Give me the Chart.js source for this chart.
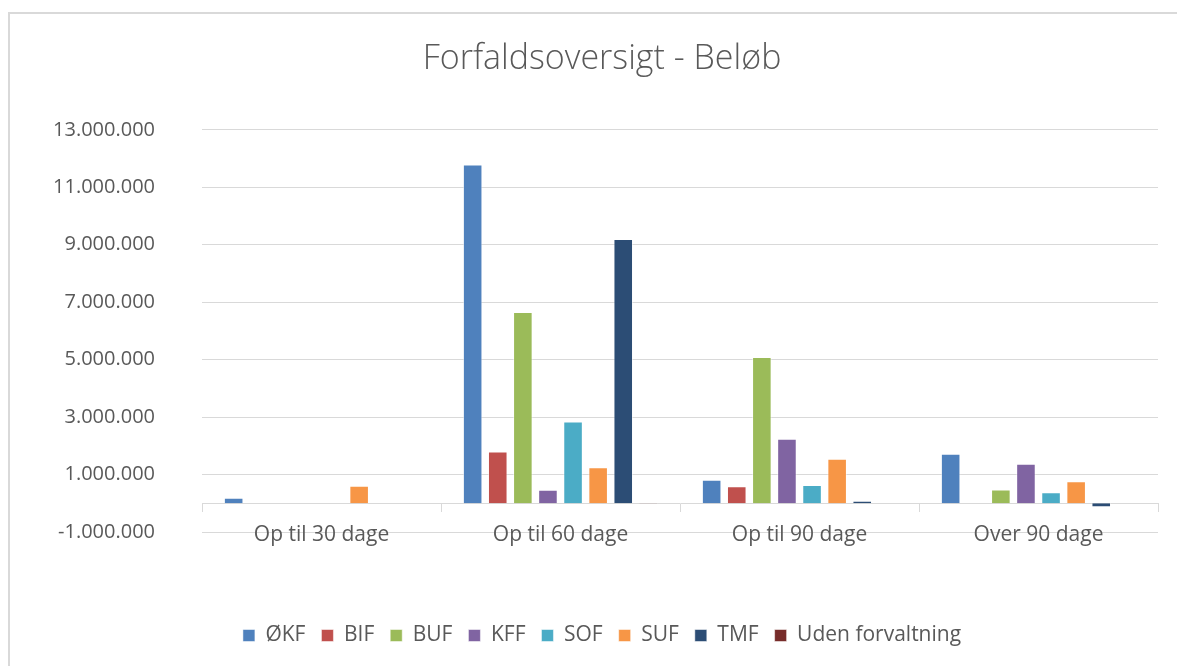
<!DOCTYPE html>
<html>
<head>
<meta charset="utf-8">
<script src="https://cdn.jsdelivr.net/npm/chart.js@4"></script>
<style>
    body { margin: 0; background: #fff; overflow: hidden; }
    #wrap { position: relative; width: 1177px; height: 666px; }
    #frame {
        position: absolute; left: 8px; top: 12px; width: 1200px; height: 700px;
        border-left: 2px solid #d9d9d9; border-top: 2px solid #d9d9d9;
        pointer-events: none;
    }
</style>
</head>
<body>
<div id="wrap">
    <canvas id="dueChart" width="1177" height="666"></canvas>
    <div id="frame"></div>
</div>
<script>
const categories = ['Op til 30 dage', 'Op til 60 dage', 'Op til 90 dage', 'Over 90 dage'];

// amounts per forvaltning
const okf  = [190000, 11790000, 820000, 1720000];
const bif  = [0, 1800000, 590000, 0];
const buf  = [0, 6660000, 5090000, 480000];
const kff  = [0, 470000, 2250000, 1380000];
const sof  = [0, 2850000, 640000, 380000];
const suf  = [610000, 1250000, 1550000, 770000];
const tmf  = [0, 9200000, 90000, -140000];
const uden = [0, 20000, 0, 0];

const seriesNames = ['ØKF', 'BIF', 'BUF', 'KFF', 'SOF', 'SUF', 'TMF', 'Uden forvaltning'];
const seriesValues = [okf, bif, buf, kff, sof, suf, tmf, uden];
const seriesColors = ['#4f81bd', '#c0504d', '#9bbb59', '#8064a2', '#4bacc6', '#f79646', '#2c4d75', '#772c2a'];

const yMin = -1000000;
const yMax = 13000000;
const yStep = 2000000;

const textColor = '#595959';
const gridColor = '#d9d9d9';
const fontFamily = '"Open Sans", "Liberation Sans", sans-serif';

function formatDots(v) {
    const neg = v < 0;
    const s = Math.abs(Math.round(v)).toString().replace(/\B(?=(\d{3})+(?!\d))/g, '.');
    return (neg ? '-' : '') + s;
}

const ctx = document.getElementById('dueChart').getContext('2d');
new Chart(ctx, {
    type: 'bar',
    data: {
        labels: categories,
        datasets: seriesNames.map((name, i) => ({
            label: name,
            data: seriesValues[i],
            backgroundColor: seriesColors[i],
            borderColor: 'rgba(255,255,255,0.5)',
            borderWidth: 1,
            categoryPercentage: 0.84,
            barPercentage: 0.78
        }))
    },
    options: {
        responsive: false,
        animation: false,
        layout: {
            // left padding also moves the legend centre to the right
            padding: { left: 46, right: 19, top: 0, bottom: 10 }
        },
        scales: {
            y: {
                min: yMin,
                max: yMax,
                afterBuildTicks: (scale) => {
                    const ticks = [];
                    for (let v = yMin; v <= yMax; v += yStep) ticks.push({ value: v });
                    scale.ticks = ticks;
                },
                afterFit: (scale) => { scale.width = 156; },
                border: { display: false },
                grid: { color: gridColor, lineWidth: 1, drawTicks: false },
                ticks: {
                    padding: 47,
                    color: textColor,
                    font: { family: fontFamily, size: 20 },
                    callback: (v) => formatDots(v)
                }
            },
            x: {
                position: { y: 0 },
                border: { display: true, color: gridColor, width: 1 },
                grid: {
                    offset: true,
                    drawOnChartArea: false,
                    drawTicks: true,
                    tickLength: 8,
                    color: gridColor
                },
                ticks: {
                    padding: 11,
                    color: textColor,
                    font: { family: fontFamily, size: 21 }
                }
            },
            // empty bottom axis, only keeps room between plot and legend
            xSpace: {
                type: 'category',
                position: 'bottom',
                afterFit: (scale) => { scale.height = 77; },
                border: { display: false },
                grid: { display: false },
                ticks: { display: false }
            }
        },
        plugins: {
            title: {
                display: true,
                text: 'Forfaldsoversigt - Beløb',
                color: textColor,
                font: { family: fontFamily, size: 34, weight: '300' },
                padding: { top: 39, bottom: 50 }
            },
            legend: {
                position: 'bottom',
                labels: {
                    boxWidth: 12,
                    boxHeight: 12,
                    padding: 16,
                    color: textColor,
                    font: { family: fontFamily, size: 21 }
                }
            },
            tooltip: { enabled: false }
        }
    }
});
</script>
</body>
</html>
